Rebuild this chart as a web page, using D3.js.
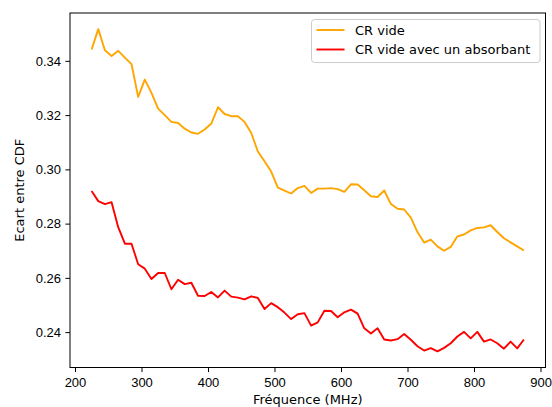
<!DOCTYPE html>
<html>
<head>
<meta charset="utf-8">
<script src="https://cdn.jsdelivr.net/npm/d3@7"></script>
<style>
  body { margin: 0; background: #fff; }
  svg { font-family: "DejaVu Sans", sans-serif; }
  .axis text { font-size: 13px; fill: #000; }
  .axis path, .axis line { stroke: #000; stroke-width: 1; }
</style>
</head>
<body>
<div id="chart"></div>
<script>
// frequencies (MHz), step 10
var freqs = d3.range(225, 876, 10);

var crVide = [
  0.3442, 0.3517, 0.3439, 0.3418, 0.3437, 0.3412, 0.3388, 0.3267, 0.3331, 0.3282,
  0.3224, 0.3200, 0.3175, 0.3171, 0.3150, 0.3136, 0.3131, 0.3147, 0.3169, 0.3229,
  0.3204, 0.3196, 0.3196, 0.3175, 0.3134, 0.3066, 0.3030, 0.2992, 0.2933, 0.2922,
  0.2911, 0.2931, 0.2939, 0.2913, 0.2929, 0.2929, 0.2931, 0.2927, 0.2917, 0.2945,
  0.2944, 0.2923, 0.2901, 0.2898, 0.2922, 0.2872, 0.2855, 0.2852, 0.2822, 0.2769,
  0.2730, 0.2741, 0.2716, 0.2700, 0.2714, 0.2753, 0.2760, 0.2775, 0.2784, 0.2786,
  0.2794, 0.2769, 0.2746, 0.2731, 0.2716, 0.2701
];

var crAbsorbant = [
  0.2920, 0.2883, 0.2872, 0.2879, 0.2787, 0.2726, 0.2726, 0.2650, 0.2634, 0.2596,
  0.2618, 0.2618, 0.2558, 0.2593, 0.2577, 0.2582, 0.2534, 0.2533, 0.2548, 0.2528,
  0.2553, 0.2531, 0.2527, 0.2521, 0.2532, 0.2526, 0.2485, 0.2507, 0.2492, 0.2472,
  0.2448, 0.2466, 0.2470, 0.2424, 0.2436, 0.2479, 0.2478, 0.2455, 0.2473, 0.2483,
  0.2468, 0.2414, 0.2395, 0.2414, 0.2373, 0.2369, 0.2374, 0.2393, 0.2372, 0.2348,
  0.2332, 0.2341, 0.2329, 0.2342, 0.2359, 0.2384, 0.2401, 0.2377, 0.2401, 0.2365,
  0.2373, 0.2359, 0.2339, 0.2365, 0.2340, 0.2373
];

var xTicks = [200, 300, 400, 500, 600, 700, 800, 900];
var yTicks = [0.24, 0.26, 0.28, 0.30, 0.32, 0.34];

var series = [
  { name: 'CR vide', color: '#ffa500', values: crVide },
  { name: 'CR vide avec un absorbant', color: '#ff0000', values: crAbsorbant }
];

var width = 552, height = 407;
var margin = { top: 13, right: 6.5, bottom: 39.5, left: 70 };
var w = width - margin.left - margin.right,
  h = height - margin.top - margin.bottom;

var svg = d3.select('#chart')
  .append('svg')
  .attr('width', width)
  .attr('height', height);

var g = svg.append('g')
  .attr('transform', 'translate(' + margin.left + ',' + margin.top + ')');

// matplotlib-like 5% margins
var xPad = (875 - 225) * 0.05;
var allVals = crVide.concat(crAbsorbant);
var yMin = d3.min(allVals), yMax = d3.max(allVals);
var yPad = (yMax - yMin) * 0.05;

var x = d3.scaleLinear()
  .domain([225 - xPad, 875 + xPad])
  .range([0, w]);
var y = d3.scaleLinear()
  .domain([yMin - yPad, yMax + yPad])
  .range([h, 0]);

// lines
var line = d3.line()
  .x(function (d, i) { return x(freqs[i]); })
  .y(function (d) { return y(d); });

series.forEach(function (s) {
  g.append('path')
    .datum(s.values)
    .attr('fill', 'none')
    .attr('stroke', s.color)
    .attr('stroke-width', 1.9)
    .attr('stroke-linejoin', 'round')
    .attr('d', line);
});

// axes
g.append('g')
  .attr('class', 'axis axis--x')
  .attr('transform', 'translate(0,' + h + ')')
  .call(d3.axisBottom(x)
    .tickValues(xTicks)
    .tickFormat(d3.format('d'))
    .tickSize(4.6)
    .tickPadding(5.4)
    .tickSizeOuter(0));

g.append('g')
  .attr('class', 'axis axis--y')
  .call(d3.axisLeft(y)
    .tickValues(yTicks)
    .tickFormat(d3.format('.2f'))
    .tickSize(4.6)
    .tickPadding(4.4)
    .tickSizeOuter(0));

g.selectAll('.axis .domain').remove();

// frame
g.append('rect')
  .attr('width', w)
  .attr('height', h)
  .attr('fill', 'none')
  .attr('stroke', '#000')
  .attr('stroke-width', 1);

// axis labels (kept just inside the bottom edge)
g.append('text')
  .attr('x', w / 2)
  .attr('y', h + 36.3)
  .attr('text-anchor', 'middle')
  .style('font-size', '13px')
  .text('Fréquence (MHz)');

g.append('text')
  .attr('transform', 'rotate(-90)')
  .attr('x', -h / 2)
  .attr('y', -46)
  .attr('text-anchor', 'middle')
  .style('font-size', '13px')
  .text('Ecart entre CDF');

// legend
var legend = svg.append('g')
  .attr('transform', 'translate(311.5,19.5)');

legend.append('rect')
  .attr('width', 228.5)
  .attr('height', 43)
  .attr('rx', 3)
  .attr('fill', '#fff')
  .attr('fill-opacity', 0.8)
  .attr('stroke', '#cccccc')
  .attr('stroke-width', 1);

series.forEach(function (s, i) {
  var ly = 10.5 + i * 19.5;
  legend.append('line')
    .attr('x1', 5)
    .attr('x2', 33)
    .attr('y1', ly)
    .attr('y2', ly)
    .attr('stroke', s.color)
    .attr('stroke-width', 1.9);
  legend.append('text')
    .attr('x', 43.5)
    .attr('y', ly + 4.7)
    .style('font-size', '13px')
    .text(s.name);
});
</script>
</body>
</html>
